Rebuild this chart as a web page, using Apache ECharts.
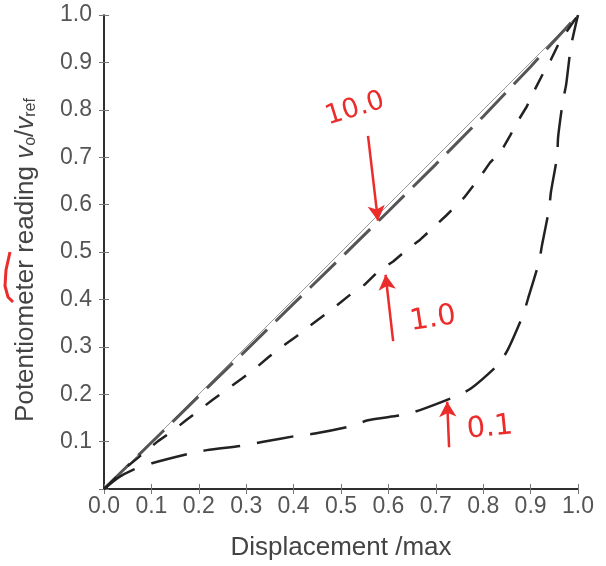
<!DOCTYPE html>
<html><head><meta charset="utf-8">
<script src="https://cdn.jsdelivr.net/npm/echarts@6/dist/echarts.min.js"></script>
<style>html,body{margin:0;padding:0;background:#fff}#c{width:606px;height:566px}</style>
</head><body><div id="c"></div>
<script>
// Tick labels
const xTicks = [0.0,0.1,0.2,0.3,0.4,0.5,0.6,0.7,0.8,0.9,1.0];
const yTicks = [0.1,0.2,0.3,0.4,0.5,0.6,0.7,0.8,0.9,1.0];
// Ideal (unloaded) line
const idealX = [0, 1];
const idealY = [0, 1];
// r = 10.0
const r10X = [0, 0.1, 0.2, 0.3, 0.4, 0.5, 0.6, 0.7, 0.8, 0.9, 1.0];
const r10Y = [0, 0.098, 0.196, 0.293, 0.391, 0.488, 0.586, 0.685, 0.786, 0.891, 1.0];
// r = 1.0
const r1X = [0, 0.05, 0.114, 0.143, 0.173, 0.203, 0.230, 0.262, 0.291, 0.321, 0.348, 0.378, 0.407, 0.435, 0.48, 0.523, 0.551, 0.578, 0.61, 0.637, 0.667, 0.692, 0.722, 0.76, 0.793, 0.814, 0.838, 0.857, 0.873, 0.892, 0.907, 0.926, 0.943, 0.960, 1.0];
const r1Y = [0, 0.048, 0.101, 0.121, 0.145, 0.168, 0.189, 0.212, 0.233, 0.256, 0.279, 0.302, 0.323, 0.345, 0.378, 0.413, 0.432, 0.459, 0.48, 0.503, 0.526, 0.549, 0.577, 0.615, 0.658, 0.688, 0.713, 0.746, 0.776, 0.807, 0.839, 0.876, 0.906, 0.941, 1.0];
// r = 0.1
const r01X = [0, 0.03, 0.06, 0.103, 0.181, 0.217, 0.295, 0.333, 0.411, 0.445, 0.519, 0.557, 0.635, 0.671, 0.741, 0.774, 0.831, 0.852, 0.884, 0.895, 0.918, 0.924, 0.939, 0.943, 0.956, 0.958, 0.968, 0.975, 0.985, 1.0];
const r01Y = [0, 0.024, 0.040, 0.055, 0.075, 0.082, 0.092, 0.099, 0.113, 0.117, 0.132, 0.145, 0.157, 0.168, 0.195, 0.212, 0.262, 0.294, 0.367, 0.403, 0.48, 0.514, 0.591, 0.627, 0.702, 0.742, 0.818, 0.853, 0.933, 1.0];
// Annotation arrows (data coords): [x0,y0,x1,y1]
const arrow10 = [0.557, 0.745, 0.578, 0.566];
const arrow1 = [0.610, 0.312, 0.594, 0.452];
const arrow01 = [0.728, 0.088, 0.724, 0.184];

const pairs = (xs, ys) => xs.map((x, i) => [x, ys[i]]);
const RED = '#ec2b2b';
const labelFont = {fontFamily: 'Liberation Sans', fontSize: 23, color: '#555'};
const tick = {show: true, inside: true, length: 5, lineStyle: {color: '#777', width: 1}};

const chart = echarts.init(document.getElementById('c'), null, {renderer: 'canvas'});
const arrowLine = a => [{coord: [a[0], a[1]]}, {coord: [a[2], a[3]]}];
chart.setOption({
  animation: false,
  grid: {left: 104, right: 28, top: 15, bottom: 74, show: false},
  xAxis: [{
    type: 'value', min: 0, max: 1, interval: 0.1, position: 'bottom',
    axisLine: {show: true, lineStyle: {color: '#222', width: 1.5}},
    axisTick: tick, splitLine: {show: false},
    axisLabel: Object.assign({margin: 6, formatter: v => v.toFixed(1)}, labelFont),
    name: 'Displacement /max', nameLocation: 'middle', nameGap: 46,
    nameTextStyle: {fontFamily: 'Liberation Sans', fontSize: 26, color: '#444'}
  }, {
    type: 'value', min: 0, max: 1, interval: 0.1, position: 'top',
    axisLine: {show: true, lineStyle: {color: '#222', width: 1.5}},
    axisTick: tick, axisLabel: {show: false}, splitLine: {show: false}
  }],
  yAxis: [{
    type: 'value', min: 0, max: 1, interval: 0.1, position: 'left',
    axisLine: {show: true, lineStyle: {color: '#222', width: 1.5}},
    axisTick: tick, splitLine: {show: false},
    axisLabel: Object.assign({margin: 12, formatter: v => v < 0.05 ? '' : v.toFixed(1)}, labelFont),
    name: 'Potentiometer reading {i|v}{s|o}{n|/}{i|v}{s|ref}',
    nameLocation: 'middle', nameRotate: 90, nameGap: 65,
    nameTextStyle: {
      fontFamily: 'Liberation Sans', fontSize: 26, color: '#444',
      padding: [0, 16, 0, 0],
      rich: {
        i: {fontFamily: 'Liberation Sans', fontSize: 26, fontStyle: 'italic', color: '#444'},
        s: {fontFamily: 'Liberation Sans', fontSize: 16, color: '#444', verticalAlign: 'bottom', padding: [10, 0, 0, 0]},
        n: {fontFamily: 'Liberation Sans', fontSize: 26, color: '#444'}
      }
    }
  }, {
    type: 'value', min: 0, max: 1, interval: 0.1, position: 'right',
    axisLine: {show: true, lineStyle: {color: '#222', width: 1.5}},
    axisTick: tick, axisLabel: {show: false}, splitLine: {show: false}
  }],
  series: [
    {type: 'line', data: pairs(idealX, idealY), symbol: 'none', lineStyle: {color: '#999', width: 1}, z: 2},
    {type: 'line', data: pairs(r10X, r10Y), symbol: 'none', lineStyle: {color: '#555', width: 3, type: [36, 12]}, z: 3},
    {type: 'line', data: pairs(r1X, r1Y), symbol: 'none', lineStyle: {color: '#222', width: 2.5, type: [17, 16]}, z: 3},
    {type: 'line', data: pairs(r01X, r01Y), symbol: 'none', smooth: 0.2, lineStyle: {color: '#222', width: 2.5, type: [37, 17]}, z: 3},
    {type: 'line', data: [], symbol: 'none', z: 5,
      markLine: {
        silent: true, symbol: ['none', 'arrow'], symbolSize: [13, 15],
        label: {show: false},
        lineStyle: {color: RED, width: 2.5, type: 'solid'},
        data: [arrowLine(arrow10), arrowLine(arrow1), arrowLine(arrow01)]
      }
    }
  ],
  graphic: [
    {type: 'text', x: 355, y: 109, rotation: 0.3, style: {text: '10.0', fontFamily: 'DejaVu Sans', fontSize: 27, fill: RED, align: 'center', verticalAlign: 'middle'}},
    {type: 'text', x: 433, y: 319, rotation: 0.15, style: {text: '1.0', fontFamily: 'DejaVu Sans', fontSize: 29, fill: RED, align: 'center', verticalAlign: 'middle'}},
    {type: 'text', x: 490, y: 428, rotation: 0.1, style: {text: '0.1', fontFamily: 'DejaVu Sans', fontSize: 29, fill: RED, align: 'center', verticalAlign: 'middle'}},
    {type: 'polyline', shape: {points: [[10, 252], [6, 270], [5, 286], [8, 297], [13, 302]]}, style: {stroke: RED, lineWidth: 3, fill: null}}
  ]
});
</script></body></html>
